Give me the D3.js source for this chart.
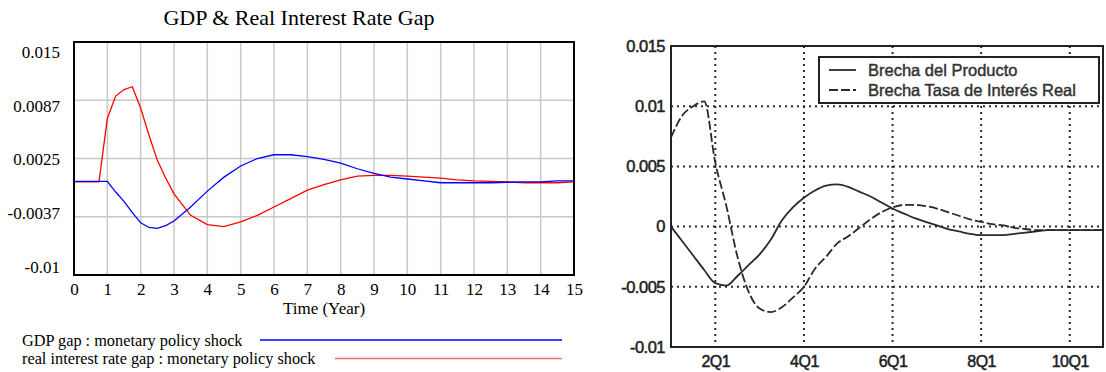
<!DOCTYPE html>
<html>
<head>
<meta charset="utf-8">
<script src="https://cdn.jsdelivr.net/npm/d3@7"></script>
<style>
  html, body { margin: 0; padding: 0; background: #ffffff; }
  svg { display: block; }
</style>
</head>
<body>
<svg id="chart" width="1106" height="372"></svg>
<script>
// ---------- Left chart data (Vensim simulation) ----------
const leftTitle = "GDP & Real Interest Rate Gap";
const leftXLabel = "Time (Year)";
const timeYears = [0,0.25,0.5,0.75,1,1.25,1.5,1.75,2,2.25,2.5,2.75,3,3.5,4,4.5,5,5.5,6,6.5,7,7.5,8,8.5,9,9.5,10,10.5,11,11.5,12,12.5,13,13.5,14,14.5,15];
const gdpGap = [0.00005,0.00005,0.00005,0.00005,0.00005,-0.0011,-0.0021,-0.0033,-0.0044,-0.0049,-0.0050,-0.0047,-0.0042,-0.0027,-0.0010,0.0005,0.0017,0.0025,0.0029,0.0029,0.0027,0.0024,0.0020,0.0014,0.0009,0.0005,0.0003,0.0001,-0.0001,-0.0001,-0.0001,-0.0001,-0.00005,0,0,0.0001,0.0001];
const realRateGap = [0,0,0,0,0.0068,0.0092,0.0099,0.0102,0.0079,0.0050,0.0023,0.0004,-0.0013,-0.0036,-0.0046,-0.0048,-0.0043,-0.0036,-0.0027,-0.0018,-0.0009,-0.0003,0.0002,0.0006,0.0007,0.0007,0.0006,0.0005,0.0004,0.0002,0.0001,0.00005,0,-0.0001,-0.0001,-0.0001,0];
const leftXTicks = [0,1,2,3,4,5,6,7,8,9,10,11,12,13,14,15];
const leftYTicks = [0.015,0.00875,0.0025,-0.00375,-0.01];
const leftYTickLabels = ["0.015","0.0087","0.0025","-0.0037","-0.01"];
const leftLegend = ["GDP gap : monetary policy shock","real interest rate gap : monetary policy shock"];

// ---------- Right chart data (scanned original) ----------
const quarterIndex = d3.range(0, 40);
const brechaProducto = [0,-0.0012,-0.0024,-0.0036,-0.0047,-0.0049,-0.0041,-0.0032,-0.0023,-0.0011,0.0005,0.0016,0.0024,0.0030,0.0034,0.0035,0.0033,0.0029,0.0025,0.0020,0.0015,0.0011,0.0007,0.0004,0.0001,-0.0002,-0.0004,-0.0006,-0.0007,-0.0007,-0.0007,-0.0006,-0.0005,-0.0004,-0.0003,-0.0003,-0.0003,-0.0003,-0.0003,-0.0003];
const brechaTasa = [0.0074,0.0092,0.0100,0.0104,0.0053,0.0017,-0.0025,-0.0054,-0.0068,-0.0071,-0.0067,-0.0059,-0.0050,-0.0035,-0.0025,-0.0014,-0.0008,-0.0001,0.0006,0.0012,0.0016,0.0018,0.0018,0.0017,0.0015,0.0012,0.0009,0.0006,0.0004,0.0002,0.0001,-0.0001,-0.0002,-0.0003,-0.0003,-0.0003,-0.0003,-0.0003,-0.0003,-0.0003];
const rightXTicks = [4,12,20,28,36];
const rightXTickLabels = ["2Q1","4Q1","6Q1","8Q1","10Q1"];
const rightYTicks = [0.015,0.01,0.005,0,-0.005,-0.01];
const rightYTickLabels = ["0.015","0.01","0.005","0","-0.005","-0.01"];
const rightLegend = ["Brecha del Producto","Brecha Tasa de Interés Real"];

const svg = d3.select("#chart");

// ================= LEFT CHART =================
const L = { left: 74, right: 574, top: 42, bottom: 275 };
const xL = d3.scaleLinear().domain([0, 15]).range([L.left, L.right]);
const yL = d3.scaleLinear().domain([-0.01, 0.015]).range([L.bottom, L.top]);
const yLabelPos = d3.scaleLinear().domain([-0.01, 0.015]).range([267, 52]);
const serif = "'Liberation Serif','Times New Roman',serif";

const gL = svg.append("g");
gL.append("text").attr("x", 299).attr("y", 25).attr("text-anchor", "middle")
  .style("font-family", serif).style("font-size", "22px").attr("fill", "#000").text(leftTitle);

// gridlines
gL.append("g").selectAll("line").data(leftXTicks.slice(1, -1)).join("line")
  .attr("x1", d => xL(d)).attr("x2", d => xL(d)).attr("y1", L.top).attr("y2", L.bottom)
  .attr("stroke", "#c8c8c8").attr("stroke-width", 1.5);
gL.append("g").selectAll("line").data(leftYTicks.slice(1, -1)).join("line")
  .attr("x1", L.left).attr("x2", L.right).attr("y1", d => yL(d)).attr("y2", d => yL(d))
  .attr("stroke", "#c8c8c8").attr("stroke-width", 1.5);

// x axis labels
const xAxisL = gL.append("g").attr("transform", `translate(0,${L.bottom})`)
  .call(d3.axisBottom(xL).tickValues(leftXTicks).tickSize(0).tickPadding(8).tickFormat(d3.format("d")));
xAxisL.select(".domain").remove();
xAxisL.selectAll("text").style("font-family", serif).style("font-size", "17px").attr("fill", "#000");

// y axis labels
const yAxisL = gL.append("g").attr("transform", `translate(${L.left},0)`)
  .call(d3.axisLeft(yLabelPos).tickValues(leftYTicks).tickSize(0).tickPadding(14)
    .tickFormat((d, i) => leftYTickLabels[i]));
yAxisL.select(".domain").remove();
yAxisL.selectAll("text").style("font-family", serif).style("font-size", "17px").attr("fill", "#000");

gL.append("text").attr("x", 324).attr("y", 314).attr("text-anchor", "middle")
  .style("font-family", serif).style("font-size", "17px").attr("fill", "#000").text(leftXLabel);

// series
const lineL = d3.line().x((d, i) => xL(timeYears[i])).y(d => yL(d));
gL.append("path").datum(realRateGap).attr("d", lineL).attr("fill", "none")
  .attr("stroke", "#ff0000").attr("stroke-width", 1.3);
gL.append("path").datum(gdpGap).attr("d", lineL).attr("fill", "none")
  .attr("stroke", "#0000ff").attr("stroke-width", 1.3);

// border
gL.append("rect").attr("x", L.left).attr("y", L.top).attr("width", L.right - L.left).attr("height", L.bottom - L.top)
  .attr("fill", "none").attr("stroke", "#000").attr("stroke-width", 2);

// legend
const legL = [
  { text: leftLegend[0], color: "#0000ff", ty: 346, ly: 340, x1: 260 },
  { text: leftLegend[1], color: "#f26b6b", ty: 364, ly: 358.5, x1: 335 }
];
legL.forEach(e => {
  gL.append("text").attr("x", 22).attr("y", e.ty).style("font-family", serif).style("font-size", "16.3px")
    .attr("fill", "#000").text(e.text);
  gL.append("line").attr("x1", e.x1).attr("x2", 562).attr("y1", e.ly).attr("y2", e.ly)
    .attr("stroke", e.color).attr("stroke-width", 1.6);
});

// ================= RIGHT CHART =================
const R = { left: 671, right: 1103, top: 46, bottom: 347 };
const xR = d3.scaleLinear().domain([0, 39]).range([R.left, R.right]);
const yR = d3.scaleLinear().domain([-0.01, 0.015]).range([R.bottom, R.top]);
const sans = "'Liberation Sans',Arial,Helvetica,sans-serif";
const gR = svg.append("g");

// dotted grid
gR.append("g").selectAll("line").data(rightXTicks).join("line")
  .attr("x1", d => xR(d)).attr("x2", d => xR(d)).attr("y1", R.top).attr("y2", R.bottom)
  .attr("stroke", "#2a2a2a").attr("stroke-width", 2).attr("stroke-dasharray", "2,4");
gR.append("g").selectAll("line").data(rightYTicks.slice(1, -1)).join("line")
  .attr("x1", R.left).attr("x2", R.right).attr("y1", d => yR(d)).attr("y2", d => yR(d))
  .attr("stroke", "#2a2a2a").attr("stroke-width", 2).attr("stroke-dasharray", "2,4");

// series
const lineR = d3.line().x((d, i) => xR(quarterIndex[i])).y(d => yR(d)).curve(d3.curveMonotoneX);
gR.append("path").datum(brechaTasa).attr("d", lineR).attr("fill", "none")
  .attr("stroke", "#2a2a2a").attr("stroke-width", 1.8).attr("stroke-dasharray", "9,3");
gR.append("path").datum(brechaProducto).attr("d", lineR).attr("fill", "none")
  .attr("stroke", "#2a2a2a").attr("stroke-width", 1.8);

// frame
gR.append("rect").attr("x", R.left).attr("y", R.top).attr("width", R.right - R.left).attr("height", R.bottom - R.top)
  .attr("fill", "none").attr("stroke", "#222").attr("stroke-width", 2);

// axes labels
const yAxisR = gR.append("g").attr("transform", `translate(${R.left},0)`)
  .call(d3.axisLeft(yR).tickValues(rightYTicks).tickSize(0).tickPadding(6)
    .tickFormat((d, i) => rightYTickLabels[i]));
yAxisR.select(".domain").remove();
yAxisR.selectAll("text").style("font-family", sans).style("font-size", "16.5px")
  .attr("fill", "#222").attr("stroke", "#222").attr("stroke-width", 0.5).style("letter-spacing", "-0.5px");

const xAxisR = gR.append("g").attr("transform", `translate(0,${R.bottom})`)
  .call(d3.axisBottom(xR).tickValues(rightXTicks).tickSize(0).tickPadding(9)
    .tickFormat((d, i) => rightXTickLabels[i]));
xAxisR.select(".domain").remove();
xAxisR.selectAll("text").style("font-family", sans).style("font-size", "16px")
  .attr("fill", "#222").attr("stroke", "#222").attr("stroke-width", 0.5).style("letter-spacing", "-0.5px");

// legend
gR.append("rect").attr("x", 819).attr("y", 57).attr("width", 280).attr("height", 46)
  .attr("fill", "#fff").attr("stroke", "#222").attr("stroke-width", 2);
const legR = [
  { text: rightLegend[0], y: 70, dash: null },
  { text: rightLegend[1], y: 90, dash: "9,3" }
];
legR.forEach(e => {
  const l = gR.append("line").attr("x1", 829).attr("x2", 856).attr("y1", e.y).attr("y2", e.y)
    .attr("stroke", "#2a2a2a").attr("stroke-width", 1.8);
  if (e.dash) l.attr("stroke-dasharray", e.dash);
  gR.append("text").attr("x", 868).attr("y", e.y).attr("dominant-baseline", "central")
    .style("font-family", sans).style("font-size", "16.5px").attr("fill", "#333")
    .attr("stroke", "#333").attr("stroke-width", 0.45).text(e.text);
});
</script>
</body>
</html>
